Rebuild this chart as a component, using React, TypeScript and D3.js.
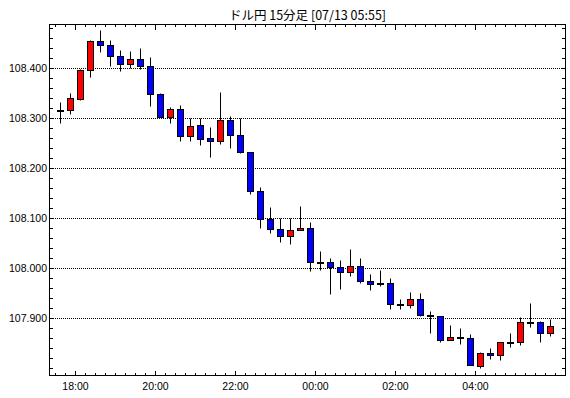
import React from 'react';
import * as d3 from 'd3';

const times = [
  "17:30","17:45","18:00","18:15","18:30","18:45","19:00","19:15","19:30","19:45",
  "20:00","20:15","20:30","20:45","21:00","21:15","21:30","21:45","22:00","22:15",
  "22:30","22:45","23:00","23:15","23:30","23:45","00:00","00:15","00:30","00:45",
  "01:00","01:15","01:30","01:45","02:00","02:15","02:30","02:45","03:00","03:15",
  "03:30","03:45","04:00","04:15","04:30","04:45","05:00","05:15","05:30","05:45",
];
const opens = [
  108.317,108.316,108.338,108.397,108.455,108.446,108.425,108.409,108.419,108.405,
  108.349,108.303,108.319,108.265,108.287,108.260,108.255,108.297,108.267,108.233,
  108.155,108.099,108.079,108.065,108.077,108.081,108.013,108.013,108.003,107.993,
  108.005,107.975,107.971,107.971,107.929,107.927,107.939,107.906,107.905,107.857,
  107.863,107.861,107.805,107.831,107.827,107.853,107.853,107.893,107.893,107.871,
];
const highs = [
  108.333,108.350,108.398,108.457,108.476,108.456,108.436,108.434,108.440,108.422,
  108.351,108.323,108.326,108.301,108.301,108.283,108.352,108.305,108.301,108.233,
  108.163,108.123,108.101,108.101,108.124,108.092,108.034,108.020,108.016,108.038,
  108.020,107.989,107.996,107.980,107.939,107.952,107.950,107.914,107.905,107.887,
  107.880,107.869,107.833,107.840,107.853,107.870,107.903,107.930,107.894,107.898,
];
const lows = [
  108.291,108.309,108.336,108.383,108.433,108.405,108.395,108.401,108.398,108.325,
  108.302,108.291,108.255,108.255,108.247,108.223,108.249,108.241,108.231,108.149,
  108.080,108.071,108.053,108.049,108.077,107.995,107.997,107.949,107.959,107.985,
  107.971,107.957,107.965,107.919,107.919,107.921,107.905,107.871,107.853,107.857,
  107.849,107.807,107.801,107.819,107.817,107.843,107.847,107.883,107.853,107.865,
];
const closes = [
  108.317,108.341,108.397,108.455,108.446,108.425,108.409,108.419,108.405,108.349,
  108.303,108.319,108.265,108.285,108.259,108.255,108.297,108.267,108.233,108.155,
  108.099,108.079,108.065,108.077,108.081,108.013,108.013,108.003,107.993,108.005,
  107.975,107.969,107.971,107.929,107.929,107.939,107.907,107.906,107.857,107.863,
  107.863,107.807,107.831,107.827,107.853,107.853,107.893,107.893,107.871,107.885,
];
const yGridValues = [107.9, 108.0, 108.1, 108.2, 108.3, 108.4];
const yTickLabels = ["107.900", "108.000", "108.100", "108.200", "108.300", "108.400"];
const xLabelTimes = ["18:00", "20:00", "22:00", "00:00", "02:00", "04:00"];
const title = "ドル円 15分足 [07/13 05:55]";

const UP = "#ff0000";
const DOWN = "#0000ff";

export default function App() {
  const W = 570, H = 398;
  const L = 49.5, R = 565.5, T = 24.5, B = 375.5;
  const x = d3.scaleBand<string>().domain(times).range([55.5, 555.5]);
  const y = d3.scaleLinear().domain([107.787, 108.488]).range([B, T]);
  const py = (v: number) => Math.round(y(v) - 0.5) + 0.5;
  const bw = x.bandwidth();

  const minorY = d3.range(107.80, 108.4801, 0.02);
  const boundaries = [...times.map((t) => x(t) as number), 555.5];
  const isMajor = (i: number) => i < times.length && xLabelTimes.includes(times[i]);
  const labelFont = "'Liberation Sans', Arial, sans-serif";

  return (
    <svg width={W} height={H} style={{ position: 'absolute', left: 0, top: 0, background: '#fff' }}>
      <rect x={0} y={0} width={W} height={H} fill="#fff" />
      <text x={(L + R) / 2} y={20} textAnchor="middle" fontFamily="'Noto Sans CJK JP', sans-serif" fontSize={12.5} fill="#000">{title}</text>

      {yGridValues.map((v) => (
        <line key={'g' + v} x1={51} x2={565} y1={py(v)} y2={py(v)} stroke="#000" strokeWidth={1} strokeDasharray="1,1" shapeRendering="crispEdges" />
      ))}

      {minorY.map((v, i) => (
        <g key={'yt' + i}>
          <line x1={50} x2={53} y1={py(v)} y2={py(v)} stroke="#000" />
          <line x1={562} x2={565} y1={py(v)} y2={py(v)} stroke="#000" />
        </g>
      ))}
      {boundaries.map((bx, i) => (
        <g key={'xt' + i}>
          <line x1={bx} x2={bx} y1={25} y2={25 + (isMajor(i) ? 5 : 2)} stroke="#000" />
          <line x1={bx} x2={bx} y1={375} y2={375 - (isMajor(i) ? 4 : 2)} stroke="#000" />
        </g>
      ))}

      {yGridValues.map((v, i) => (
        <text key={'yl' + v} x={47} y={py(v)} dy="0.36em" textAnchor="end" fontFamily={labelFont} fontSize={10.5} fill="#000">{yTickLabels[i]}</text>
      ))}
      {xLabelTimes.map((t) => (
        <text key={'xl' + t} x={x(t) as number} y={389.5} textAnchor="middle" fontFamily={labelFont} fontSize={10.5} fill="#000">{t}</text>
      ))}

      {times.map((t, i) => {
        const cx = (x(t) as number) + bw / 2;
        const o = opens[i], c = closes[i];
        const top = py(Math.max(o, c));
        const bot = py(Math.min(o, c));
        const doji = o === c || bot - top < 1;
        return (
          <g key={'c' + i}>
            <line x1={cx} x2={cx} y1={py(highs[i])} y2={py(lows[i])} stroke="#000" strokeWidth={1} />
            {doji ? (
              <rect x={cx - 3.5} y={top - 0.5} width={7} height={2} fill="#000" />
            ) : (
              <rect x={cx - 3} y={top} width={6} height={bot - top} fill={c > o ? UP : DOWN} stroke="#000" strokeWidth={1} />
            )}
          </g>
        );
      })}

      <rect x={L} y={T} width={R - L} height={B - T} fill="none" stroke="#000" strokeWidth={1} />
    </svg>
  );
}
